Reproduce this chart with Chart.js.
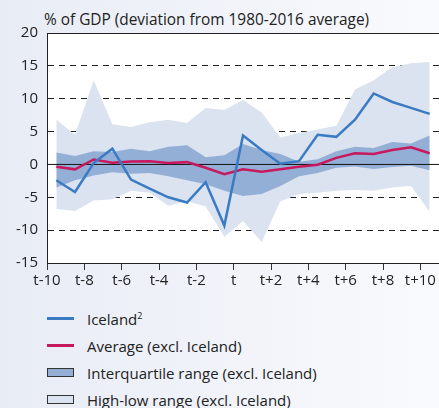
<!DOCTYPE html>
<html>
<head>
<meta charset="utf-8">
<script src="https://cdn.jsdelivr.net/npm/chart.js@4"></script>
<style>
  html, body { margin: 0; padding: 0; }
  body {
    width: 439px; height: 408px; overflow: hidden; position: relative;
    background: linear-gradient(to right, #e8ecf5, #f9fafd);
    font-family: "Open Sans", sans-serif; color: #222;
  }
  #title { position: absolute; left: 44px; top: 9px; font-size: 15.4px; white-space: nowrap; }
  #chart { position: absolute; left: 0; top: 0; }
  #legend { position: absolute; left: 47px; top: 305px; font-size: 15px; }
  .item { display: flex; align-items: center; height: 27px; white-space: nowrap; }
  .sym { width: 27px; margin-right: 13px; box-sizing: border-box; }
  .sym.line { height: 3px; }
  .sym.box { height: 9px; border: 1.5px solid #333; }
  sup { font-size: 9px; }
</style>
</head>
<body>
<div id="title">% of GDP (deviation from 1980-2016 average)</div>
<canvas id="chart" width="439" height="300"></canvas>
<div id="legend"></div>
<script>
// Periods around the event (t)
const periods = ['t-10', 't-9', 't-8', 't-7', 't-6', 't-5', 't-4', 't-3', 't-2', 't-1', 't',
  't+1', 't+2', 't+3', 't+4', 't+5', 't+6', 't+7', 't+8', 't+9', 't+10'];
const tickLabels = ['t-10', 't-8', 't-6', 't-4', 't-2', 't', 't+2', 't+4', 't+6', 't+8', 't+10'];
const yTicks = [20, 15, 10, 5, 0, -5, -10, -15];

// Series (% of GDP)
const iceland = [-2.4, -4.2, 0.2, 2.4, -2.3, -3.7, -5.0, -5.8, -2.7, -9.3, 4.4,
  2.2, 0.1, 0.5, 4.5, 4.2, 6.8, 10.8, 9.5, 8.6, 7.7];
const average = [-0.35, -0.75, 0.75, 0.25, 0.45, 0.5, 0.2, 0.35, -0.5, -1.5, -0.75,
  -1.1, -0.75, -0.35, -0.05, 1.0, 1.7, 1.6, 2.2, 2.6, 1.7];
const iqrHigh = [1.8, 1.3, 2.0, 1.9, 2.4, 2.0, 2.7, 2.9, 1.1, 1.4, 3.1,
  2.2, 1.6, 0.4, 0.8, 2.0, 2.7, 2.5, 3.4, 3.2, 4.4];
const iqrLow = [-3.5, -2.4, -1.7, -1.2, -1.4, -1.3, -1.8, -2.4, -3.0, -4.0, -4.8,
  -4.5, -3.3, -1.8, -1.3, -0.5, -0.3, -0.7, -0.4, -0.2, -0.9];
const hlHigh = [6.8, 4.5, 12.8, 6.1, 5.7, 6.4, 6.8, 6.3, 8.6, 8.3, 9.8,
  7.9, 4.1, 4.8, 5.3, 5.9, 11.4, 12.8, 14.8, 15.4, 15.6];
const hlLow = [-6.8, -7.1, -5.5, -5.3, -4.0, -4.3, -6.3, -5.6, -6.4, -11.0, -8.6,
  -11.8, -5.6, -4.5, -4.3, -4.0, -3.9, -4.0, -3.5, -3.3, -7.2];

const blue = '#3a7bc4';
const magenta = '#c8185e';
const darkBand = '#94afd6';
const lightBand = '#dae3ef';

// each period sits in the middle of its slot, ticks mark the slot start
const toPoints = (values) => values.map((v, i) => ({ x: i - 10 + 0.5, y: v }));

// White plot area + solid zero line between bands and lines
const plotArea = {
  id: 'plotArea',
  beforeDraw(chart) {
    const { ctx, chartArea: a } = chart;
    ctx.save();
    ctx.fillStyle = '#ffffff';
    ctx.fillRect(a.left, a.top, a.right - a.left, a.bottom - a.top);
    ctx.restore();
  },
  beforeDatasetDraw(chart, args) {
    if (args.index !== 4) return;
    const { ctx, chartArea: a } = chart;
    const y = chart.scales.y.getPixelForValue(0);
    ctx.save();
    ctx.strokeStyle = '#111';
    ctx.lineWidth = 1;
    ctx.beginPath();
    ctx.moveTo(a.left, y);
    ctx.lineTo(a.right, y);
    ctx.stroke();
    ctx.restore();
  }
};

// lower order = drawn on top
const band = (label, data, color, fill, order) => ({
  label, data: toPoints(data), borderWidth: 0, pointRadius: 0,
  backgroundColor: color, fill: fill ? '-1' : false, tension: 0, order
});

const chart = new Chart(document.getElementById('chart'), {
  type: 'line',
  data: {
    datasets: [
      band('hlLow', hlLow, lightBand, false, 5),
      band('High-low range (excl. Iceland)', hlHigh, lightBand, true, 4),
      band('iqrLow', iqrLow, darkBand, false, 3),
      band('Interquartile range (excl. Iceland)', iqrHigh, darkBand, true, 2),
      {
        label: 'Average (excl. Iceland)', data: toPoints(average), order: 1,
        borderColor: magenta, borderWidth: 2.5, pointRadius: 0, fill: false
      },
      {
        label: 'Iceland', data: toPoints(iceland), order: 0,
        borderColor: blue, borderWidth: 2.5, pointRadius: 0, fill: false
      }
    ]
  },
  options: {
    responsive: false,
    animation: false,
    layout: { padding: { top: 33, right: 0, left: 0, bottom: 0 } },
    plugins: { legend: { display: false }, tooltip: { enabled: false } },
    scales: {
      x: {
        type: 'linear', min: -10, max: 11,
        afterFit: (s) => { s.height = 37; },
        afterBuildTicks: (s) => { s.ticks = tickLabels.map((_, i) => ({ value: -10 + 2 * i })); },
        ticks: {
          padding: 2, color: '#222', maxRotation: 0, autoSkip: false,
          font: { family: 'Open Sans', size: 15 },
          callback: (v) => tickLabels[(v + 10) / 2]
        },
        grid: { drawOnChartArea: false, drawTicks: true, tickLength: 7, color: '#333', lineWidth: 1 },
        border: { color: '#222', width: 1 }
      },
      y: {
        min: -15, max: 20,
        afterFit: (s) => { s.width = 47; },
        afterBuildTicks: (s) => { s.ticks = yTicks.map(v => ({ value: v })); },
        ticks: {
          padding: 9, color: '#222',
          font: { family: 'Open Sans', size: 15 }
        },
        grid: {
          drawTicks: false, lineWidth: 1,
          color: (c) => (c.tick && (c.tick.value === 0 || c.tick.value === -15)) ? 'rgba(0,0,0,0)' : '#222'
        },
        border: {
          color: '#222', width: 1,
          dash: (c) => (c.tick && c.tick.value === 20) ? [] : [6, 5]
        }
      }
    }
  },
  plugins: [plotArea]
});

// Legend in the original order
const legendItems = [
  { text: 'Iceland', sup: '2', kind: 'line', color: blue },
  { text: 'Average (excl. Iceland)', kind: 'line', color: magenta },
  { text: 'Interquartile range (excl. Iceland)', kind: 'box', color: darkBand },
  { text: 'High-low range (excl. Iceland)', kind: 'box', color: lightBand }
];
const legend = document.getElementById('legend');
legendItems.forEach(item => {
  const row = document.createElement('div');
  row.className = 'item';
  const sym = document.createElement('span');
  sym.className = 'sym ' + item.kind;
  sym.style.background = item.color;
  const label = document.createElement('span');
  label.textContent = item.text;
  if (item.sup) {
    const s = document.createElement('sup');
    s.textContent = item.sup;
    label.appendChild(s);
  }
  row.appendChild(sym);
  row.appendChild(label);
  legend.appendChild(row);
});
</script>
</body>
</html>
